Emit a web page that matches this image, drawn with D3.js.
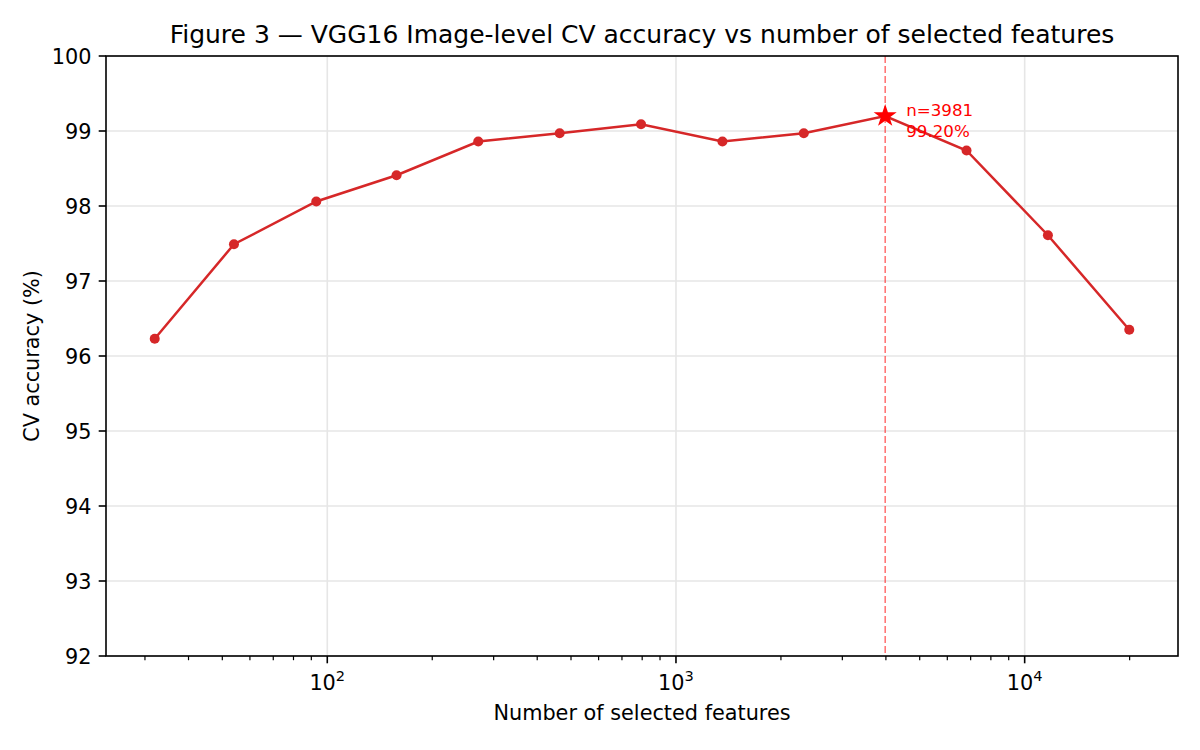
<!DOCTYPE html>
<html>
<head>
<meta charset="utf-8">
<script src="https://cdn.jsdelivr.net/npm/d3@7"></script>
<style>
  html, body { margin: 0; padding: 0; background: #fff; }
  svg { display: block; font-family: "DejaVu Sans", sans-serif; }
</style>
</head>
<body>
<svg width="1200" height="750"></svg>
<script>
// features selected (log-spaced) and CV accuracy (%)
const nFeatures = [32, 54, 93, 158, 271, 464, 794, 1359, 2326, 3981, 6812, 11659, 19953];
const accuracy = [96.23, 97.49, 98.06, 98.41, 98.86, 98.97, 99.09, 98.86, 98.97, 99.20, 98.74, 97.61, 96.35];
const yTicks = [92, 93, 94, 95, 96, 97, 98, 99, 100];
const xTicks = [100, 1000, 10000];
const best = { n: 3981, acc: 99.20 };

const svg = d3.select("svg");
const margin = { top: 56, right: 22, bottom: 94, left: 106 };
const width = +svg.attr("width");
const height = +svg.attr("height");
const innerWidth = width - margin.left - margin.right;
const innerHeight = height - margin.top - margin.bottom;

const data = nFeatures.map((n, i) => ({ n, acc: accuracy[i] }));

// matplotlib-like 5% margin in log space
const lo = Math.log10(d3.min(nFeatures));
const hi = Math.log10(d3.max(nFeatures));
const pad = 0.05 * (hi - lo);

// scales work in page coordinates
const x = d3.scaleLog()
  .domain([Math.pow(10, lo - pad), Math.pow(10, hi + pad)])
  .range([margin.left, margin.left + innerWidth]);

const y = d3.scaleLinear()
  .domain([92, 100])
  .range([margin.top + innerHeight, margin.top]);

const bottom = margin.top + innerHeight;

// grid
svg.append("g")
  .selectAll("line")
  .data(yTicks)
  .enter().append("line")
  .attr("x1", margin.left).attr("x2", margin.left + innerWidth)
  .attr("y1", d => y(d)).attr("y2", d => y(d))
  .attr("stroke", "#e6e6e6")
  .attr("stroke-width", 1.6);

svg.append("g")
  .selectAll("line")
  .data(xTicks)
  .enter().append("line")
  .attr("x1", d => x(d)).attr("x2", d => x(d))
  .attr("y1", margin.top).attr("y2", bottom)
  .attr("stroke", "#e6e6e6")
  .attr("stroke-width", 1.6);

// minor ticks on the log axis
const [d0, d1] = x.domain();
const minor = x.ticks().filter(t => t >= d0 && t <= d1 && !xTicks.includes(t));

svg.append("g")
  .selectAll("line")
  .data(minor)
  .enter().append("line")
  .attr("x1", d => x(d)).attr("x2", d => x(d))
  .attr("y1", bottom).attr("y2", bottom + 4.2)
  .attr("stroke", "#000")
  .attr("stroke-width", 1.2);

// x axis
svg.append("g")
  .selectAll("line")
  .data(xTicks)
  .enter().append("line")
  .attr("x1", d => x(d)).attr("x2", d => x(d))
  .attr("y1", bottom).attr("y2", bottom + 7.3)
  .attr("stroke", "#000")
  .attr("stroke-width", 1.6);

const xl = svg.append("g")
  .selectAll("text")
  .data(xTicks)
  .enter().append("text")
  .attr("x", d => x(d))
  .attr("y", bottom + 34)
  .attr("text-anchor", "middle")
  .style("font-size", "20.8px")
  .attr("fill", "#000");
xl.append("tspan").text("10");
xl.append("tspan")
  .attr("dy", -9)
  .style("font-size", "14.6px")
  .text(d => Math.round(Math.log10(d)));

// y axis
svg.append("g")
  .selectAll("line")
  .data(yTicks)
  .enter().append("line")
  .attr("x1", margin.left - 7.3).attr("x2", margin.left)
  .attr("y1", d => y(d)).attr("y2", d => y(d))
  .attr("stroke", "#000")
  .attr("stroke-width", 1.6);

svg.append("g")
  .selectAll("text")
  .data(yTicks)
  .enter().append("text")
  .attr("x", margin.left - 14.6)
  .attr("y", d => y(d) + 7.5)
  .attr("text-anchor", "end")
  .style("font-size", "20.8px")
  .attr("fill", "#000")
  .text(d => d);

// best n marker line
svg.append("line")
  .attr("x1", x(best.n)).attr("x2", x(best.n))
  .attr("y1", margin.top).attr("y2", bottom)
  .attr("stroke", "red")
  .attr("stroke-opacity", 0.6)
  .attr("stroke-width", 1.4)
  .attr("stroke-dasharray", "7,3");

// curve
const line = d3.line()
  .x(d => x(d.n))
  .y(d => y(d.acc));

svg.append("path")
  .datum(data)
  .attr("fill", "none")
  .attr("stroke", "#d62728")
  .attr("stroke-width", 2.5)
  .attr("d", line);

svg.selectAll(".dot")
  .data(data.filter(d => d.n !== best.n))
  .enter().append("circle")
  .attr("class", "dot")
  .attr("cx", d => x(d.n))
  .attr("cy", d => y(d.acc))
  .attr("r", 5)
  .attr("fill", "#d62728");

// best point star
svg.append("path")
  .attr("d", d3.symbol().type(d3.symbolStar).size(165))
  .attr("transform", `translate(${x(best.n)},${y(best.acc)})`)
  .attr("fill", "red");

svg.append("text")
  .attr("x", x(best.n) + 21)
  .attr("y", y(best.acc))
  .style("font-size", "16.7px")
  .attr("fill", "red")
  .text(`n=${best.n}`);

svg.append("text")
  .attr("x", x(best.n) + 21)
  .attr("y", y(best.acc) + 21)
  .style("font-size", "16.7px")
  .attr("fill", "red")
  .text(`${best.acc.toFixed(2)}%`);

// frame
svg.append("rect")
  .attr("x", margin.left).attr("y", margin.top)
  .attr("width", innerWidth).attr("height", innerHeight)
  .attr("fill", "none")
  .attr("stroke", "#000")
  .attr("stroke-width", 1.6);

// title and labels
svg.append("text")
  .attr("x", margin.left + innerWidth / 2)
  .attr("y", 43)
  .attr("text-anchor", "middle")
  .style("font-size", "25px")
  .text("Figure 3 — VGG16 Image-level CV accuracy vs number of selected features");

svg.append("text")
  .attr("x", margin.left + innerWidth / 2)
  .attr("y", 720)
  .attr("text-anchor", "middle")
  .style("font-size", "20.8px")
  .text("Number of selected features");

svg.append("text")
  .attr("transform", `translate(39,${margin.top + innerHeight / 2}) rotate(-90)`)
  .attr("text-anchor", "middle")
  .style("font-size", "20.8px")
  .text("CV accuracy (%)");
</script>
</body>
</html>
